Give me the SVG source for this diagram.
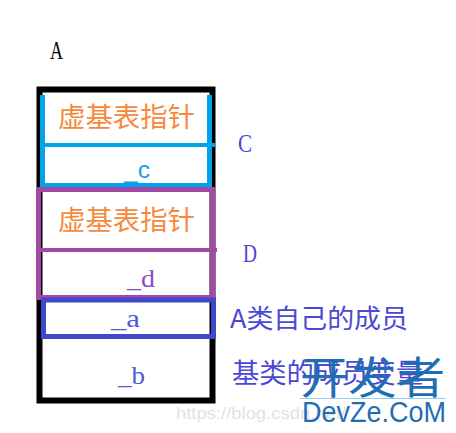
<svg xmlns="http://www.w3.org/2000/svg" width="456" height="433" viewBox="0 0 456 433">
<style>
.cjk{font-family:"Noto Sans CJK SC","Noto Sans CJK JP",sans-serif;}
.ser{font-family:"Liberation Serif","DejaVu Serif",serif;}
.san{font-family:"Liberation Sans",Arial,sans-serif;}
.or{fill:#f58a3c;}
.lab{fill:#4a48d6;}
.box{fill:none;stroke-linecap:butt;}
</style>
<rect width="456" height="433" fill="#ffffff"/>
<text class="ser" x="50" y="59" font-size="26" textLength="13" lengthAdjust="spacingAndGlyphs" fill="#000">A</text>
<g id="outer">
<rect class="box" x="39.5" y="89.5" width="173" height="311" stroke="#000" stroke-width="6"/>
</g>
<g id="cell-c">
<path class="box" d="M42.5 95 V185.5 H209.5 V95" stroke="#00a2e8" stroke-width="5"/>
<line x1="42" y1="145" x2="215" y2="145" stroke="#00a2e8" stroke-width="4"/>
<text class="cjk or" x="58" y="127" font-size="27" textLength="137" lengthAdjust="spacingAndGlyphs">虚基表指针</text>
<text class="san" x="124" y="178" font-size="24" textLength="26" lengthAdjust="spacingAndGlyphs" fill="#1aa0e8">_c</text>
</g>
<g id="cell-d">
<rect class="box" x="38.5" y="189.5" width="174" height="108" stroke="#a349a4" stroke-width="5"/>
<line x1="40" y1="250" x2="217" y2="250" stroke="#a349a4" stroke-width="4"/>
<text class="cjk or" x="58" y="230" font-size="27" textLength="137" lengthAdjust="spacingAndGlyphs">虚基表指针</text>
<text class="ser" x="127" y="287" font-size="25" textLength="28" lengthAdjust="spacingAndGlyphs" fill="#8a4cc4">_d</text>
</g>
<g id="cell-a">
<rect class="box" x="43.5" y="300" width="170" height="36.5" stroke="#3f48cc" stroke-width="5"/>
<text class="ser" x="111" y="327" font-size="26" textLength="29" lengthAdjust="spacingAndGlyphs" fill="#4a5ad8">_a</text>
</g>
<g id="cell-b">
<text class="ser" x="118" y="384" font-size="26" textLength="27" lengthAdjust="spacingAndGlyphs" fill="#4a5ad8">_b</text>
</g>
<g id="labels">
<text class="ser lab" x="238" y="152" font-size="26" textLength="14" lengthAdjust="spacingAndGlyphs">C</text>
<text class="ser lab" x="243" y="262" font-size="26" textLength="14" lengthAdjust="spacingAndGlyphs">D</text>
<text class="cjk lab" x="230" y="328" font-size="26" textLength="178" lengthAdjust="spacingAndGlyphs">A类自己的成员</text>
<text class="cjk lab" x="232" y="383" font-size="27" textLength="191" lengthAdjust="spacingAndGlyphs">基类的成员变量</text>
</g>
<g id="connectors"></g>
<g id="watermark">
<text class="san" x="176" y="419" font-size="17" textLength="170" lengthAdjust="spacingAndGlyphs" fill="#e2e2e2">https://blog.csdn.net/</text>
<text class="cjk" x="300" y="394" font-size="44" textLength="145" lengthAdjust="spacingAndGlyphs" fill="#1f6db3">开发者</text>
<line x1="300" y1="398.5" x2="446" y2="398.5" stroke="#8fd0f0" stroke-width="1"/>
<text class="san" x="302" y="422" font-size="29" textLength="144" lengthAdjust="spacingAndGlyphs" fill="#1f6db3">DevZe.CoM</text>
</g>
</svg>
